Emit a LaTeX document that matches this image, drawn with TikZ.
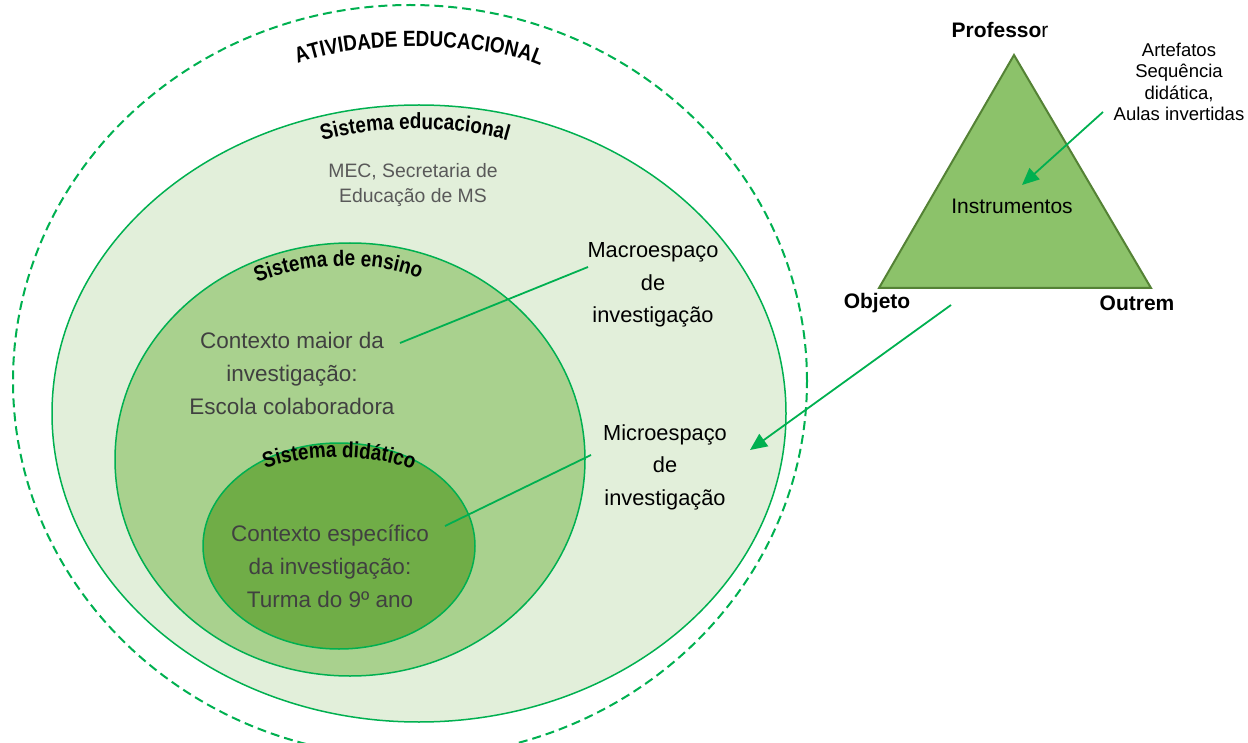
\documentclass[tikz,border=0pt]{standalone}
\usepackage{fontspec}
\setmainfont{Liberation Sans}
\newfontfamily\wordart[FakeStretch=0.86]{Liberation Sans}
\usetikzlibrary{arrows.meta,decorations.text,shapes.geometric}
\definecolor{ringgreen}{HTML}{00B050}
\definecolor{fillA}{HTML}{E2EFDA}
\definecolor{fillB}{HTML}{A9D18E}
\definecolor{fillC}{HTML}{70AD47}
\definecolor{trifill}{HTML}{8CC26A}
\definecolor{tridraw}{HTML}{548235}
\definecolor{txtdark}{HTML}{404040}
\definecolor{txtgray}{HTML}{595959}
\tikzset{
  ring/.style={draw=ringgreen, line width=1.5pt},
  conn/.style={draw=ringgreen, line width=1.8pt},
  arr/.style={draw=ringgreen, line width=1.8pt, -{Triangle[length=17pt,width=15pt]}},
  bigtxt/.style={align=center, inner sep=0pt, font=\fontsize{21.8}{32.5}\selectfont},
  ctxtxt/.style={align=center, inner sep=0pt, text=txtdark, font=\fontsize{22.5}{33}\selectfont},
  vert/.style={inner sep=0pt, font=\fontsize{21}{25}\selectfont\bfseries},
  curvetxt/.style={decoration={text along path, text align=center, text={#1}}, decorate}
}
\newcommand{\curvelabel}[2]{%
  \path[curvetxt={|\wordart\fontsize{22}{22}\selectfont\bfseries|#2}] #1;
}
\begin{document}
\begin{tikzpicture}[x=1pt,y=-1pt]
\useasboundingbox (0,0) rectangle (1248,743);
% outer dashed boundary
\draw[draw=ringgreen, line width=2pt, dash pattern=on 9pt off 5pt] (410,381) ellipse [x radius=397pt, y radius=376pt];
% ellipses
\path[ring, fill=fillA] (419,413.5) ellipse [x radius=367pt, y radius=308.5pt];
\path[ring, fill=fillB] (350,459.5) ellipse [x radius=235pt, y radius=216.5pt];
\path[ring, fill=fillC] (339,546) ellipse [x radius=136pt, y radius=103pt];
% curved labels
\curvelabel{(283,72) .. controls (330,38) and (507,38) .. (555,74)}{ATIVIDADE EDUCACIONAL}
\curvelabel{(312,144) .. controls (368,124) and (462,124) .. (518,144)}{Sistema educacional}
\curvelabel{(250,286) .. controls (298,262) and (380,258) .. (427,282)}{Sistema de ensino}
\curvelabel{(256,472) .. controls (300,452) and (380,452) .. (422,474)}{Sistema didático}
% texts in ellipses
\node[align=center, inner sep=0pt, text=txtgray, font=\fontsize{19.4}{25}\selectfont] (mec) at (413,185) {MEC, Secretaria de\\Educação de MS};
\node[ctxtxt] (ctxmaior) at (292,373) {Contexto maior da\\investigação:\\Escola colaboradora};
\node[ctxtxt] (ctxesp) at (330,566) {Contexto específico\\da investigação:\\Turma do 9º ano};
\node[bigtxt] (macro) at (653,285) {Macroespaço\\de\\investigação};
\node[bigtxt] (micro) at (665,467) {Microespaço\\de\\investigação};
% connector lines
\coordinate (mA) at (400,343);
\coordinate (mB) at (588,267);
\coordinate (nA) at (445,526);
\coordinate (nB) at (591,455);
\draw[conn] (mA) -- (mB);
\draw[conn] (nA) -- (nB);
% triangle
\coordinate (tA) at (1014,55);
\coordinate (tB) at (879,288);
\coordinate (tC) at (1151,288);
\path[fill=trifill, draw=tridraw, line width=2pt, line join=miter] (tA) -- (tB) -- (tC) -- cycle;
\node[vert] (prof) at (1000,30) {Professo\mdseries r};
\node[vert] (obj) at (877,303) {Objeto};
\node[vert] (outr) at (1137,303) {Outrem};
\node[inner sep=0pt, font=\fontsize{21}{25}\selectfont] (instr) at (1012,206) {Instrumentos};
\node[align=center, inner sep=0pt, font=\fontsize{18.5}{21.3}\selectfont] (artef) at (1179,82) {Artefatos\\Sequência\\didática,\\Aulas invertidas};
% arrows
\coordinate (a1s) at (1103,112);
\coordinate (a1e) at (1022,185);
\coordinate (a2s) at (951,305);
\coordinate (a2e) at (750,450);
\draw[arr] (a1s) -- (a1e);
\draw[arr] (a2s) -- (a2e);
\end{tikzpicture}
\end{document}
